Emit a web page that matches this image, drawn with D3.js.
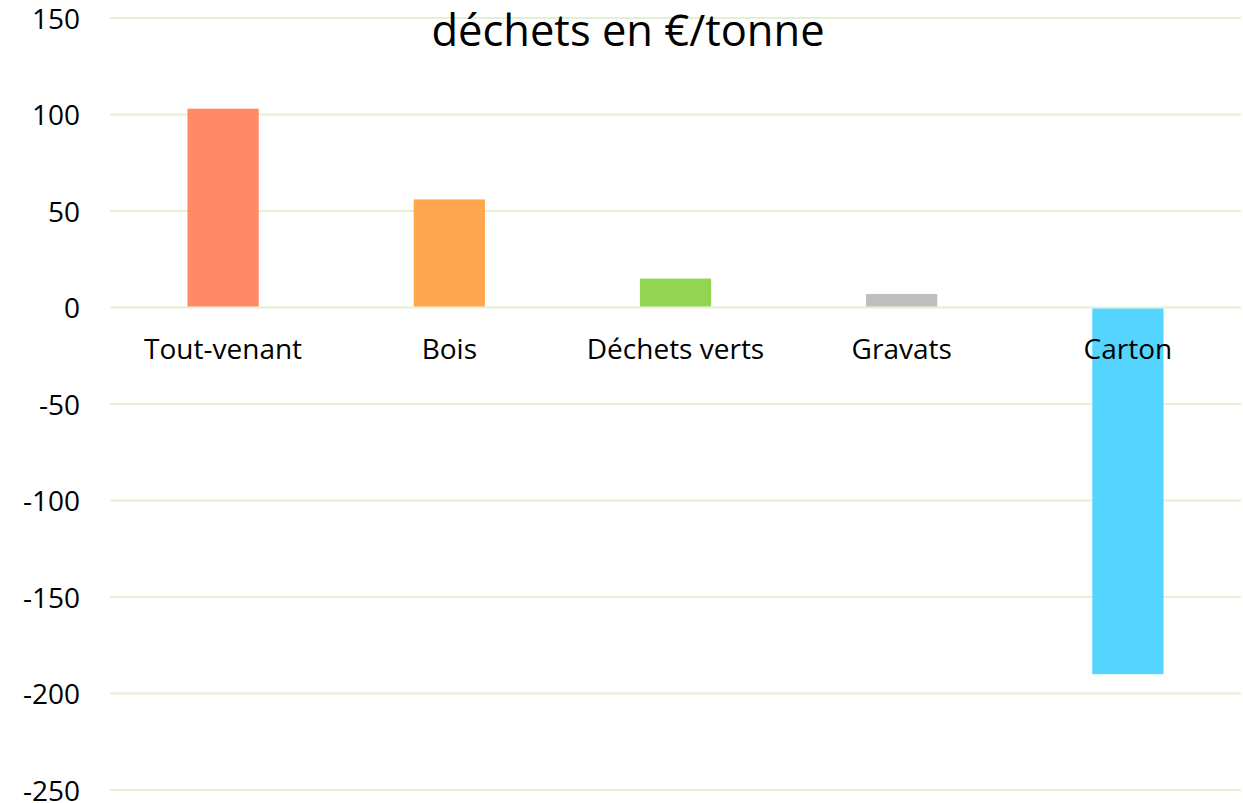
<!DOCTYPE html>
<html>
<head>
<meta charset="utf-8">
<script src="https://cdn.jsdelivr.net/npm/d3@7"></script>
<style>
  body { margin: 0; background: #fff; }
  text { font-family: "Open Sans", "Noto Sans", sans-serif; fill: #000; }
</style>
</head>
<body>
<div id="chart"></div>
<script>
var categories = ["Tout-venant", "Bois", "Déchets verts", "Gravats", "Carton"];
var values = [103, 56, 15, 7, -190];
var colors = ["#ff8b66", "#ffa74f", "#92d550", "#bfbfbf", "#55d4ff"];
var yTicks = [150, 100, 50, 0, -50, -100, -150, -200, -250];
var title = "déchets en €/tonne";

var W = 1243, H = 803;
var margin = { top: 18, right: 2, bottom: 13, left: 110 };
var width = W - margin.left - margin.right;
var height = H - margin.top - margin.bottom;

var svg = d3.select("#chart").append("svg")
    .attr("width", W)
    .attr("height", H);

var g = svg.append("g")
    .attr("transform", "translate(" + margin.left + "," + margin.top + ")");

var x = d3.scaleBand()
    .domain(categories)
    .range([0, width])
    .paddingInner(0.685)
    .paddingOuter(0.3425);

var y = d3.scaleLinear()
    .domain([-250, 150])
    .range([height, 0]);

// gridlines
g.append("g")
    .selectAll("line")
    .data(yTicks)
    .enter().append("line")
    .attr("x1", 0)
    .attr("x2", width)
    .attr("y1", function (d) { return y(d); })
    .attr("y2", function (d) { return y(d); })
    .attr("stroke", "#e2f0d3")
    .attr("stroke-width", 2);

// y axis labels (plain hyphen for negatives, like the original)
var yAxis = d3.axisLeft(y)
    .tickValues(yTicks)
    .tickSize(0)
    .tickPadding(30)
    .tickFormat(function (d) { return String(d); });
var gY = g.append("g").call(yAxis);
gY.select(".domain").remove();
gY.selectAll("text")
    .style("font-size", "28px")
    .attr("dy", "0.36em")
    .attr("fill", "#000");

// bars
g.selectAll(".bar")
    .data(values)
    .enter().append("rect")
    .attr("class", "bar")
    .attr("x", function (d, i) { return x(categories[i]); })
    .attr("width", x.bandwidth())
    .attr("y", function (d) { return y(Math.max(0, d)) + (d > 0 ? 0 : 1); })
    .attr("height", function (d) { return Math.abs(y(d) - y(0)) - 1; })
    .attr("fill", function (d, i) { return colors[i]; });

// category labels
g.selectAll(".cat")
    .data(categories)
    .enter().append("text")
    .attr("class", "cat")
    .attr("x", function (d) { return x(d) + x.bandwidth() / 2; })
    .attr("y", y(0) + 51)
    .attr("text-anchor", "middle")
    .style("font-size", "28px")
    .text(function (d) { return d; });

// title
svg.append("text")
    .attr("x", 628)
    .attr("y", 46)
    .attr("text-anchor", "middle")
    .style("font-size", "43.5px")
    .text(title);
</script>
</body>
</html>
